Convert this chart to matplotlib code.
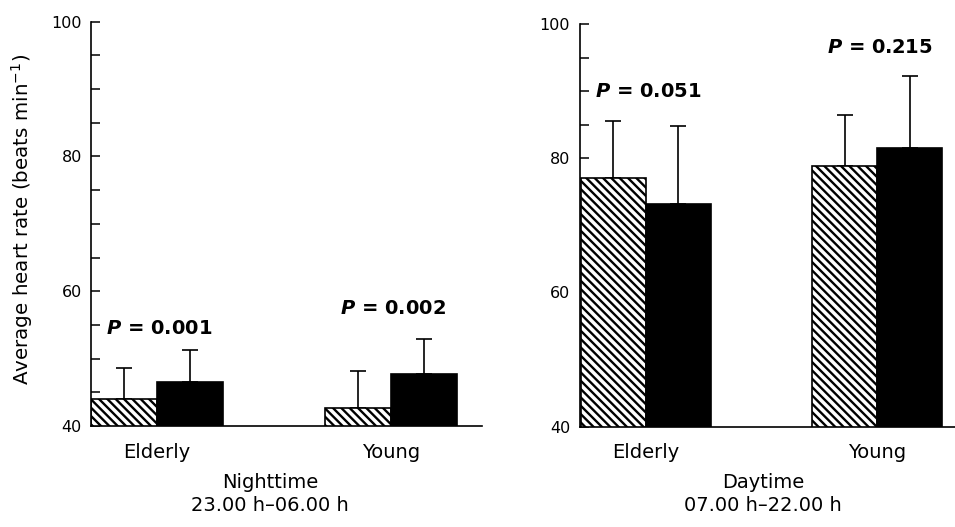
import matplotlib
matplotlib.use('Agg')
import matplotlib.pyplot as plt
from matplotlib.ticker import MultipleLocator

plt.rcParams['font.family'] = ['DejaVu Sans']
plt.rcParams['mathtext.fontset'] = 'custom'
plt.rcParams['mathtext.it'] = 'DejaVu Sans:italic:bold'
plt.rcParams['mathtext.rm'] = 'DejaVu Sans'
plt.rcParams['hatch.linewidth'] = 1.7

# data
groups = ['Elderly', 'Young']
night_hatched = [44.0, 42.6]
night_hatched_err = [4.6, 5.5]
night_black = [46.6, 47.7]
night_black_err = [4.7, 5.2]
night_p = ['0.001', '0.002']
night_p_y = [54.5, 57.4]

day_hatched = [77.1, 78.9]
day_hatched_err = [8.4, 7.6]
day_black = [73.2, 81.5]
day_black_err = [11.6, 10.7]
day_p = ['0.051', '0.215']
day_p_y = [89.9, 96.5]

fig = plt.figure(figsize=(9.55, 5.27), dpi=100)
ax1 = fig.add_axes([0.0958, 0.1917, 0.4086, 0.7671])
ax2 = fig.add_axes([0.6073, 0.1907, 0.3927, 0.7638])


def draw_panel(ax, hatched, hatched_err, black, black_err, pvals, p_y, xlim, w):
    x = list(range(len(groups)))
    ax.bar([i - w / 2 for i in x], hatched, w, color='white',
           edgecolor='black', hatch='\\\\\\\\', linewidth=1.2, zorder=2)
    ax.bar([i + w / 2 for i in x], black, w, color='black',
           edgecolor='black', linewidth=1.2, zorder=2)
    ax.errorbar([i - w / 2 for i in x], hatched, yerr=[[0] * len(x), hatched_err],
                fmt='none', ecolor='black', elinewidth=1.2, capsize=5.5, capthick=1.2, zorder=1)
    ax.errorbar([i + w / 2 for i in x], black, yerr=[[0] * len(x), black_err],
                fmt='none', ecolor='black', elinewidth=1.2, capsize=5.5, capthick=1.2, zorder=1)
    for i, (p, py) in enumerate(zip(pvals, p_y)):
        ax.text(i + 0.01, py, r'$\mathit{P}$ = ' + p, ha='center', va='center',
                fontsize=14, fontweight='bold')
    ax.set_ylim(40, 100)
    ax.set_xlim(*xlim)
    ax.set_xticks(x)
    ax.set_xticklabels(groups, fontsize=14)
    ax.tick_params(axis='x', length=0, pad=12)
    ax.yaxis.set_major_locator(MultipleLocator(20))
    ax.yaxis.set_minor_locator(MultipleLocator(5))
    ax.tick_params(axis='y', which='both', direction='in', length=6.5, width=1.1,
                   labelsize=11.5, pad=7)
    for s in ['top', 'right']:
        ax.spines[s].set_visible(False)
    for s in ['left', 'bottom']:
        ax.spines[s].set_linewidth(1.2)


draw_panel(ax1, night_hatched, night_hatched_err, night_black, night_black_err,
           night_p, night_p_y, (-0.280, 1.389), 0.282)
draw_panel(ax2, day_hatched, day_hatched_err, day_black, day_black_err,
           day_p, day_p_y, (-0.2853, 1.336), 0.281)

fig.text(270 / 955, 1 - 494 / 527, 'Nighttime\n23.00 h\u201306.00 h', ha='center',
         va='center', fontsize=14, linespacing=1.25)
fig.text(763 / 955, 1 - 494 / 527, 'Daytime\n07.00 h\u201322.00 h', ha='center',
         va='center', fontsize=14, linespacing=1.25)
fig.text(22 / 955, 1 - 219.5 / 527, 'Average heart rate (beats min$^{-1}$)',
         rotation=90, ha='center', va='center', fontsize=14.3)

fig.savefig('out.png', dpi=100)
